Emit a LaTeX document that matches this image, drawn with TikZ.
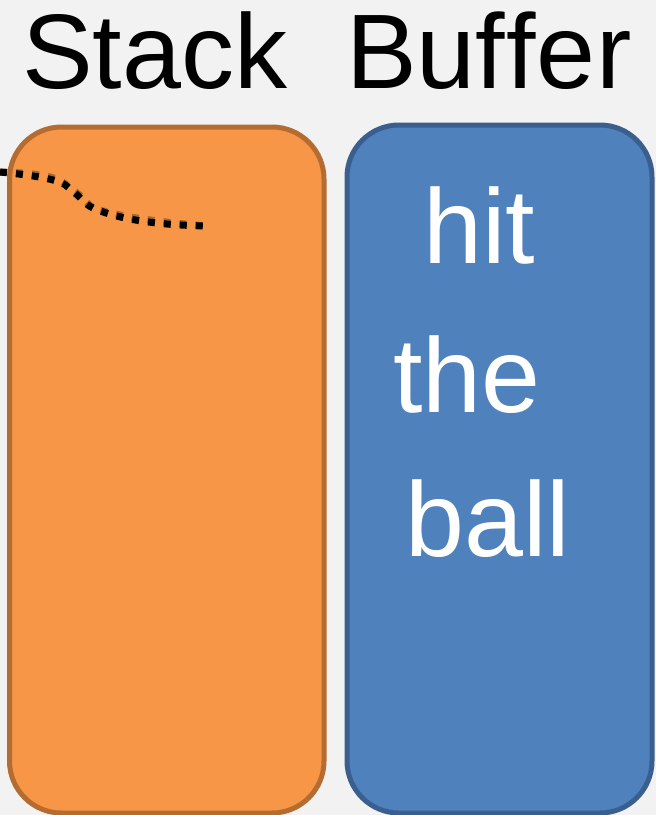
\documentclass[tikz,border=0pt]{standalone}
\usepackage{fontspec}
\setmainfont{Liberation Sans}
\definecolor{bgc}{HTML}{F2F2F2}
\definecolor{orfill}{HTML}{F79646}
\definecolor{ordraw}{HTML}{B56C30}
\definecolor{blfill}{HTML}{4F81BD}
\definecolor{bldraw}{HTML}{3A5F8E}
\definecolor{shad}{HTML}{A8652E}
\begin{document}
\begin{tikzpicture}[x=1pt,y=-1pt,
  title/.style={anchor=base west,inner sep=0pt,font=\fontsize{106}{106}\selectfont,text=black},
  word/.style={anchor=base west,inner sep=0pt,font=\fontsize{106}{106}\selectfont,text=white},
  panel/.style={line width=5pt,rounded corners=52pt}]
\fill[bgc] (0,0) rectangle (656,815);
\useasboundingbox (0,0) rectangle (656,815);
\draw[panel,fill=orfill,draw=ordraw] (9.5,127) rectangle (324,813);
\draw[panel,fill=blfill,draw=bldraw] (347,125) rectangle (652,813);
\node[title] (stack) at (22,88) {Stack};
\node[title] (buffer) at (346,88) {Buf\kern1ptf\kern1pte\kern1ptr};
\node[word] (hit) at (423,263) {hit};
\node[word] (the) at (393,412) {the};
\node[word] (ball) at (405,556) {ball};
\coordinate (d1) at (0,172);
\coordinate (d2) at (69,188);
\coordinate (d3) at (93,208);
\coordinate (d4) at (206,226);
\draw[shad,line width=7pt,dash pattern=on 7pt off 9pt,yshift=3pt]
  (d1) .. controls (40,176) and (62,180) .. (d2) .. controls (80,196) and (84,204) .. (d3) .. controls (120,220) and (160,225) .. (d4);
\draw[black,line width=7pt,dash pattern=on 7pt off 9pt]
  (d1) .. controls (40,176) and (62,180) .. (d2) .. controls (80,196) and (84,204) .. (d3) .. controls (120,220) and (160,225) .. (d4);
\end{tikzpicture}
\end{document}
